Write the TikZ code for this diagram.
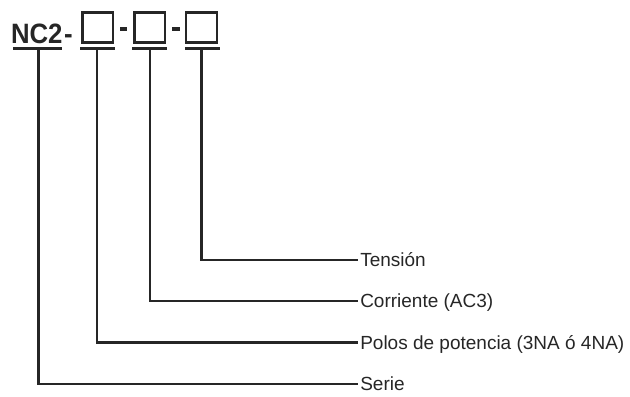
\documentclass[tikz,border=0pt]{standalone}
\usepackage{fontspec}
\setmainfont{Liberation Sans}
\begin{document}
\begin{tikzpicture}[x=0.75pt,y=-0.75pt,
  box/.style={draw=black!85, line width=1.8pt, minimum width=23pt, minimum height=22.5pt, inner sep=0pt},
  bar/.style={draw=black!85, line width=2.4pt, line cap=butt},
  conn/.style={draw=black!85, line width=1.6pt},
  lab/.style={inner ysep=0pt, inner xsep=1.5pt, text height=10.2pt, text depth=0pt, anchor=west, font=\fontsize{14.25pt}{17pt}\selectfont, text=black!85},
  dashmark/.style={fill=black!85}]
\useasboundingbox (0,0) rectangle (630,396);
% title
\node[anchor=base west, inner sep=0pt, xscale=0.92, font=\fontsize{21pt}{25pt}\selectfont\bfseries, text=black!85] (nc) at (10.8,43.3) {NC2\kern1.2pt-};
\node[box] (b1) at (97.75,27.5) {};
\node[box] (b2) at (149.75,27.5) {};
\node[box] (b3) at (201.5,27.5) {};
\fill[dashmark] (119.5,26.8) rectangle (126.5,31);
\fill[dashmark] (172,26.8) rectangle (179.5,31);
% bars
\coordinate (s0) at (13,48.5);   \coordinate (s1) at (62,48.5);
\coordinate (p0) at (80,48.5);   \coordinate (p1) at (115,48.5);
\coordinate (q0) at (132,48.5);  \coordinate (q1) at (167,48.5);
\coordinate (r0) at (185,48.5);  \coordinate (r1) at (220,48.5);
\draw[bar] (s0) -- (s1);
\draw[bar] (p0) -- (p1);
\draw[bar] (q0) -- (q1);
\draw[bar] (r0) -- (r1);
\coordinate (cs) at (38.5,48.5);
\coordinate (cp) at (97.25,48.5);
\coordinate (cq) at (150,48.5);
\coordinate (cr) at (201.5,48.5);
% labels
\node[lab] (lt) at (358,260) {Tensión};
\node[lab] (lc) at (358,301) {Corriente (AC3)};
\node[lab] (lp) at (358,342.5) {Polos de potencia (3NA ó 4NA)};
\node[lab] (ls) at (358,384) {Serie};
% connectors
\draw[conn] (cr) |- (lt.west);
\draw[conn] (cq) |- (lc.west);
\draw[conn] (cp) |- (lp.west);
\draw[conn] (cs) |- (ls.west);
\end{tikzpicture}
\end{document}
